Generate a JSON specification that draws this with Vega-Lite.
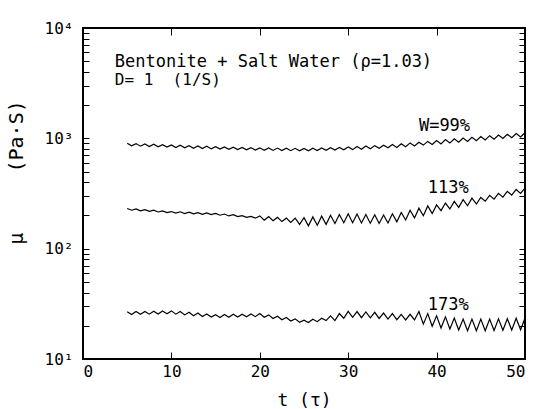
{
  "$schema": "https://vega.github.io/schema/vega-lite/v6.json",
  "width": 442,
  "height": 331,
  "autosize": {"type": "none"},
  "padding": {"left": 83, "top": 28, "right": 18, "bottom": 50},
  "background": "white",
  "config": {"view": {"stroke": "black", "strokeWidth": 2}, "font": "DejaVu Sans Mono"},
  "layer": [
    {
      "data": {"values": [
      {"s":"99","t":5,"v":902},{"s":"99","t":5.5,"v":855},{"s":"99","t":6,"v":896},{"s":"99","t":6.5,"v":849},{"s":"99","t":7,"v":890},{"s":"99","t":7.5,"v":843},{"s":"99","t":8,"v":884},{"s":"99","t":8.5,"v":838},{"s":"99","t":9,"v":877},{"s":"99","t":9.5,"v":832},
      {"s":"99","t":10,"v":871},{"s":"99","t":10.5,"v":826},{"s":"99","t":11,"v":865},{"s":"99","t":11.5,"v":820},{"s":"99","t":12,"v":859},{"s":"99","t":12.5,"v":814},{"s":"99","t":13,"v":853},{"s":"99","t":13.5,"v":808},{"s":"99","t":14,"v":847},{"s":"99","t":14.5,"v":802},
      {"s":"99","t":15,"v":841},{"s":"99","t":15.5,"v":798},{"s":"99","t":16,"v":836},{"s":"99","t":16.5,"v":794},{"s":"99","t":17,"v":832},{"s":"99","t":17.5,"v":790},{"s":"99","t":18,"v":828},{"s":"99","t":18.5,"v":786},{"s":"99","t":19,"v":824},{"s":"99","t":19.5,"v":782},
      {"s":"99","t":20,"v":820},{"s":"99","t":20.5,"v":779},{"s":"99","t":21,"v":818},{"s":"99","t":21.5,"v":777},{"s":"99","t":22,"v":816},{"s":"99","t":22.5,"v":775},{"s":"99","t":23,"v":814},{"s":"99","t":23.5,"v":773},{"s":"99","t":24,"v":812},{"s":"99","t":24.5,"v":771},
      {"s":"99","t":25,"v":810},{"s":"99","t":25.5,"v":772},{"s":"99","t":26,"v":814},{"s":"99","t":26.5,"v":776},{"s":"99","t":27,"v":818},{"s":"99","t":27.5,"v":780},{"s":"99","t":28,"v":822},{"s":"99","t":28.5,"v":784},{"s":"99","t":29,"v":826},{"s":"99","t":29.5,"v":788},
      {"s":"99","t":30,"v":834},{"s":"99","t":30.5,"v":790},{"s":"99","t":31,"v":843},{"s":"99","t":31.5,"v":797},{"s":"99","t":32,"v":851},{"s":"99","t":32.5,"v":805},{"s":"99","t":33,"v":859},{"s":"99","t":33.5,"v":813},{"s":"99","t":34,"v":867},{"s":"99","t":34.5,"v":821},
      {"s":"99","t":35,"v":880},{"s":"99","t":35.5,"v":827},{"s":"99","t":36,"v":894},{"s":"99","t":36.5,"v":841},{"s":"99","t":37,"v":909},{"s":"99","t":37.5,"v":854},{"s":"99","t":38,"v":923},{"s":"99","t":38.5,"v":868},{"s":"99","t":39,"v":938},{"s":"99","t":39.5,"v":881},
      {"s":"99","t":40,"v":957},{"s":"99","t":40.5,"v":891},{"s":"99","t":41,"v":973},{"s":"99","t":41.5,"v":906},{"s":"99","t":42,"v":990},{"s":"99","t":42.5,"v":922},{"s":"99","t":43,"v":1007},{"s":"99","t":43.5,"v":937},{"s":"99","t":44,"v":1023},{"s":"99","t":44.5,"v":952},
      {"s":"99","t":45,"v":1040},{"s":"99","t":45.5,"v":968},{"s":"99","t":46,"v":1057},{"s":"99","t":46.5,"v":983},{"s":"99","t":47,"v":1073},{"s":"99","t":47.5,"v":998},{"s":"99","t":48,"v":1090},{"s":"99","t":48.5,"v":1014},{"s":"99","t":49,"v":1107},{"s":"99","t":49.5,"v":1029},{"s":"99","t":50,"v":1123},
      {"s":"113","t":5,"v":231},{"s":"113","t":5.5,"v":223},{"s":"113","t":6,"v":229},{"s":"113","t":6.5,"v":220},{"s":"113","t":7,"v":226},{"s":"113","t":7.5,"v":218},{"s":"113","t":8,"v":223},{"s":"113","t":8.5,"v":215},{"s":"113","t":9,"v":220},{"s":"113","t":9.5,"v":212},
      {"s":"113","t":10,"v":217},{"s":"113","t":10.5,"v":210},{"s":"113","t":11,"v":216},{"s":"113","t":11.5,"v":208},{"s":"113","t":12,"v":214},{"s":"113","t":12.5,"v":207},{"s":"113","t":13,"v":212},{"s":"113","t":13.5,"v":205},{"s":"113","t":14,"v":211},{"s":"113","t":14.5,"v":204},
      {"s":"113","t":15,"v":209},{"s":"113","t":15.5,"v":201},{"s":"113","t":16,"v":206},{"s":"113","t":16.5,"v":198},{"s":"113","t":17,"v":203},{"s":"113","t":17.5,"v":195},{"s":"113","t":18,"v":199},{"s":"113","t":18.5,"v":192},{"s":"113","t":19,"v":196},{"s":"113","t":19.5,"v":189},
      {"s":"113","t":20,"v":198},{"s":"113","t":20.5,"v":181},{"s":"113","t":21,"v":195},{"s":"113","t":21.5,"v":179},{"s":"113","t":22,"v":192},{"s":"113","t":22.5,"v":176},{"s":"113","t":23,"v":189},{"s":"113","t":23.5,"v":173},{"s":"113","t":24,"v":189},{"s":"113","t":24.5,"v":166},
      {"s":"113","t":25,"v":191},{"s":"113","t":25.5,"v":161},{"s":"113","t":26,"v":194},{"s":"113","t":26.5,"v":163},{"s":"113","t":27,"v":197},{"s":"113","t":27.5,"v":166},{"s":"113","t":28,"v":201},{"s":"113","t":28.5,"v":169},{"s":"113","t":29,"v":204},{"s":"113","t":29.5,"v":172},
      {"s":"113","t":30,"v":207},{"s":"113","t":30.5,"v":172},{"s":"113","t":31,"v":206},{"s":"113","t":31.5,"v":171},{"s":"113","t":32,"v":204},{"s":"113","t":32.5,"v":170},{"s":"113","t":33,"v":203},{"s":"113","t":33.5,"v":169},{"s":"113","t":34,"v":202},{"s":"113","t":34.5,"v":171},
      {"s":"113","t":35,"v":207},{"s":"113","t":35.5,"v":175},{"s":"113","t":36,"v":213},{"s":"113","t":36.5,"v":182},{"s":"113","t":37,"v":223},{"s":"113","t":37.5,"v":190},{"s":"113","t":38,"v":233},{"s":"113","t":38.5,"v":199},{"s":"113","t":39,"v":244},{"s":"113","t":39.5,"v":208},
      {"s":"113","t":40,"v":249},{"s":"113","t":40.5,"v":221},{"s":"113","t":41,"v":259},{"s":"113","t":41.5,"v":229},{"s":"113","t":42,"v":268},{"s":"113","t":42.5,"v":237},{"s":"113","t":43,"v":278},{"s":"113","t":43.5,"v":245},{"s":"113","t":44,"v":287},{"s":"113","t":44.5,"v":254},
      {"s":"113","t":45,"v":291},{"s":"113","t":45.5,"v":269},{"s":"113","t":46,"v":304},{"s":"113","t":46.5,"v":281},{"s":"113","t":47,"v":317},{"s":"113","t":47.5,"v":293},{"s":"113","t":48,"v":331},{"s":"113","t":48.5,"v":305},{"s":"113","t":49,"v":344},{"s":"113","t":49.5,"v":317},{"s":"113","t":50,"v":354},
      {"s":"173","t":5,"v":26.8},{"s":"173","t":5.5,"v":25.3},{"s":"173","t":6,"v":26.9},{"s":"173","t":6.5,"v":25.4},{"s":"173","t":7,"v":27.0},{"s":"173","t":7.5,"v":25.5},{"s":"173","t":8,"v":27.1},{"s":"173","t":8.5,"v":25.6},{"s":"173","t":9,"v":27.2},{"s":"173","t":9.5,"v":25.7},
      {"s":"173","t":10,"v":27.3},{"s":"173","t":10.5,"v":25.5},{"s":"173","t":11,"v":26.9},{"s":"173","t":11.5,"v":25.1},{"s":"173","t":12,"v":26.5},{"s":"173","t":12.5,"v":24.7},{"s":"173","t":13,"v":26.1},{"s":"173","t":13.5,"v":24.3},{"s":"173","t":14,"v":25.6},{"s":"173","t":14.5,"v":24.0},
      {"s":"173","t":15,"v":25.2},{"s":"173","t":15.5,"v":23.8},{"s":"173","t":16,"v":25.3},{"s":"173","t":16.5,"v":23.9},{"s":"173","t":17,"v":25.4},{"s":"173","t":17.5,"v":24.0},{"s":"173","t":18,"v":25.5},{"s":"173","t":18.5,"v":24.1},{"s":"173","t":19,"v":25.6},{"s":"173","t":19.5,"v":24.2},
      {"s":"173","t":20,"v":25.8},{"s":"173","t":20.5,"v":23.9},{"s":"173","t":21,"v":25.1},{"s":"173","t":21.5,"v":23.3},{"s":"173","t":22,"v":24.4},{"s":"173","t":22.5,"v":22.7},{"s":"173","t":23,"v":23.8},{"s":"173","t":23.5,"v":22.1},{"s":"173","t":24,"v":23.1},{"s":"173","t":24.5,"v":21.5},
      {"s":"173","t":25,"v":22.5},{"s":"173","t":25.5,"v":21.4},{"s":"173","t":26,"v":22.9},{"s":"173","t":26.5,"v":21.8},{"s":"173","t":27,"v":23.4},{"s":"173","t":27.5,"v":22.3},{"s":"173","t":28,"v":24.6},{"s":"173","t":28.5,"v":22.3},{"s":"173","t":29,"v":25.8},{"s":"173","t":29.5,"v":23.4},
      {"s":"173","t":30,"v":27.0},{"s":"173","t":30.5,"v":23.9},{"s":"173","t":31,"v":26.9},{"s":"173","t":31.5,"v":23.7},{"s":"173","t":32,"v":26.7},{"s":"173","t":32.5,"v":23.6},{"s":"173","t":33,"v":26.5},{"s":"173","t":33.5,"v":23.3},{"s":"173","t":34,"v":26.1},{"s":"173","t":34.5,"v":23.0},
      {"s":"173","t":35,"v":25.8},{"s":"173","t":35.5,"v":22.7},{"s":"173","t":36,"v":25.4},{"s":"173","t":36.5,"v":22.6},{"s":"173","t":37,"v":25.4},{"s":"173","t":37.5,"v":22.6},{"s":"173","t":38,"v":26.9},{"s":"173","t":38.5,"v":20.7},{"s":"173","t":39,"v":25.8},{"s":"173","t":39.5,"v":19.8},
      {"s":"173","t":40,"v":24.6},{"s":"173","t":40.5,"v":19.1},{"s":"173","t":41,"v":24.1},{"s":"173","t":41.5,"v":18.7},{"s":"173","t":42,"v":23.5},{"s":"173","t":42.5,"v":18.3},{"s":"173","t":43,"v":23.0},{"s":"173","t":43.5,"v":18.0},{"s":"173","t":44,"v":23.0},{"s":"173","t":44.5,"v":18.0},
      {"s":"173","t":45,"v":23.0},{"s":"173","t":45.5,"v":18.0},{"s":"173","t":46,"v":23.0},{"s":"173","t":46.5,"v":18.1},{"s":"173","t":47,"v":23.1},{"s":"173","t":47.5,"v":18.2},{"s":"173","t":48,"v":23.2},{"s":"173","t":48.5,"v":18.3},{"s":"173","t":49,"v":23.4},{"s":"173","t":49.5,"v":18.4},{"s":"173","t":50,"v":23.5}
      ]},
      "mark": {"type": "line", "color": "black", "strokeWidth": 1.2},
      "encoding": {
        "x": {"field": "t", "type": "quantitative", "scale": {"domain": [0, 50], "nice": false},
          "axis": {"orient": "bottom", "offset": -7, "values": [0, 10, 20, 30, 40, 50], "tickSize": 7, "tickColor": "black", "ticks": true, "domain": false, "grid": false,
            "labelFont": "DejaVu Sans Mono", "labelColor": "black", "labelFontSize": 16, "labelPadding": 4,
            "title": "t (τ)", "titleFont": "DejaVu Sans Mono", "titleFontWeight": "normal", "titleColor": "black", "titleFontSize": 18, "titlePadding": 12}},
        "y": {"field": "v", "type": "quantitative", "scale": {"type": "log", "domain": [10, 10000], "nice": false},
          "axis": {"orient": "left", "offset": -6, "values": [10,20,30,40,50,60,70,80,90,100,200,300,400,500,600,700,800,900,1000,2000,3000,4000,5000,6000,7000,8000,9000,10000],
            "labelExpr": "datum.value == 10 ? '10¹' : datum.value == 100 ? '10²' : datum.value == 1000 ? '10³' : datum.value == 10000 ? '10⁴' : ''",
            "tickSize": 6, "tickColor": "black", "ticks": true, "domain": false, "grid": false,
            "labelFont": "DejaVu Sans Mono", "labelColor": "black", "labelFontSize": 16, "labelPadding": 10,
            "title": "μ\u00a0\u00a0\u00a0\u00a0\u00a0(Pa·S)", "titleFont": "DejaVu Sans Mono", "titleFontWeight": "normal", "titleColor": "black", "titleFontSize": 20, "titleX": -63, "titleY": 144}},
        "detail": {"field": "s", "type": "nominal"}
      }
    },
    {
      "data": {"values": [
        {"label": "Bentonite + Salt Water (ρ=1.03)", "t": 3.6, "v": 4920},
        {"label": "D= 1\u00a0\u00a0(1/S)", "t": 3.6, "v": 3380},
        {"label": "W=99%", "t": 38, "v": 1292},
        {"label": "113%", "t": 39, "v": 354},
        {"label": "173%", "t": 39, "v": 30.8}
      ]},
      "mark": {"type": "text", "align": "left", "baseline": "middle", "color": "black", "font": "DejaVu Sans Mono", "fontSize": 17},
      "encoding": {
        "x": {"field": "t", "type": "quantitative", "axis": {"orient": "top", "offset": -7, "values": [10, 20, 30, 40], "tickSize": 7, "tickColor": "black", "ticks": true, "labels": false, "domain": false, "grid": false, "title": null}},
        "y": {"field": "v", "type": "quantitative", "axis": {"orient": "right", "offset": -6, "values": [20,30,40,50,60,70,80,90,100,200,300,400,500,600,700,800,900,1000,2000,3000,4000,5000,6000,7000,8000,9000], "tickSize": 6, "tickColor": "black", "ticks": true, "labels": false, "domain": false, "grid": false, "title": null}},
        "text": {"field": "label"},
        "size": {"condition": {"test": "indexof(datum.label, 'D=') == 0", "value": 16}, "value": 17}
      }
    }
  ],
  "resolve": {"axis": {"x": "independent", "y": "independent"}}
}
